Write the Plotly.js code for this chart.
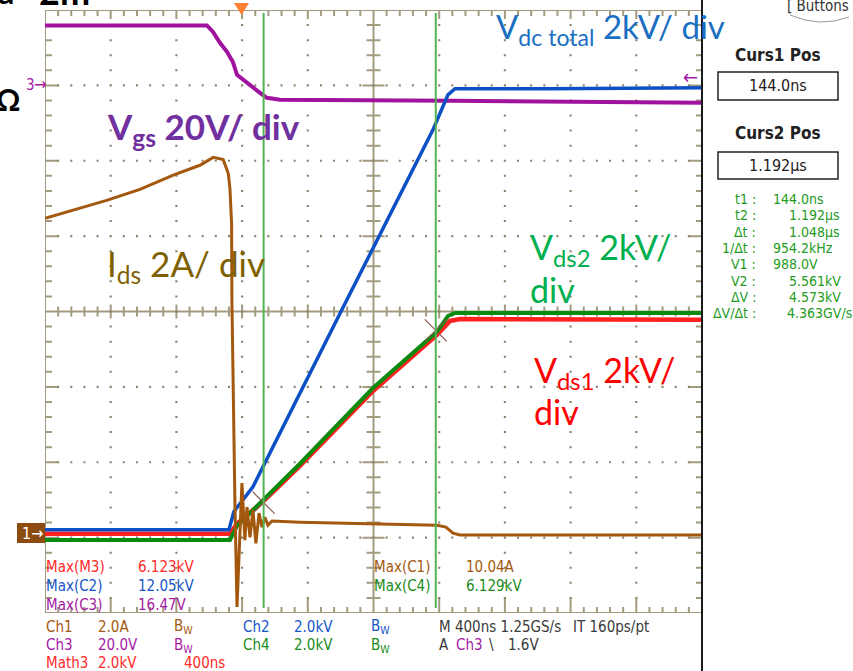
<!DOCTYPE html>
<html><head><meta charset="utf-8">
<script src="https://cdn.plot.ly/plotly-3.0.1.min.js"></script>
<style>html,body{margin:0;padding:0;background:#fff;}#chart{width:853px;height:671px;}</style>
</head><body><div id="chart"></div>
<script>
// ---------------- DATA (time in µs) ----------------
// Ch3: gate-source voltage Vgs (V), 20 V/div
const vgsTime  = [-1.187,-0.201,-0.164,-0.122,-0.079,-0.043,-0.018,0.018,0.079,0.122,0.164,0.244,1.279,2.813];
const vgsVolts = [15.5,15.5,13.8,10.9,8.5,5.8,2.4,1.1,-0.8,-2.4,-3.7,-4.2,-4.5,-5.0];
// Ch1: drain current Ids (A), 2 A/div
const idsTime = [-1.187,-1.015,-0.812,-0.609,-0.406,-0.244,-0.163,-0.102,-0.071,-0.061,-0.051,-0.049,-0.043,-0.037,-0.030,-0.018,-0.006,0.012,0.030,0.043,0.061,0.079,0.097,0.116,0.134,0.152,0.170,0.195,0.365,1.199,1.254,1.297,1.339,2.813];
const idsAmps = [8.35,8.57,8.83,9.12,9.50,9.76,9.97,9.91,9.54,9.14,8.21,6.18,4.06,1.62,0.61,-1.96,-0.64,1.33,-0.19,0.69,-0.11,0.61,-0.27,0.53,0.16,0.42,0.21,0.32,0.29,0.21,0.16,0.0,-0.05,-0.05];
// Ch2: Vdc total (kV), 2 kV/div
const vdcTime = [-1.187,-0.067,-0.037,0.079,0.651,1.175,1.266,1.309,1.887,2.813];
const vdcKV   = [0.05,0.05,0.53,1.19,6.15,10.66,11.59,11.75,11.75,11.78];
// Ch4: Vds2 (kV), 2 kV/div
const vds2Time = [-1.187,-0.061,-0.018,0.152,0.365,0.810,1.199,1.266,1.309,2.813];
const vds2KV   = [0,0,0.37,1.11,2.02,4.03,5.52,5.94,6.02,6.02];
// Math3: Vds1 (kV), 2 kV/div
const vds1Time = [-1.187,-0.061,-0.018,0.152,0.365,0.810,1.199,1.279,1.339,2.813];
const vds1KV   = [0,0,0.27,0.90,1.80,3.79,5.28,5.65,5.70,5.68];
// Cursors (µs) and their readings on Ch4 (kV)
const cursorTimes = [0.144, 1.192];
const cursorKV    = [0.988, 5.561];
// Channel scale (units/div) and ground level (divisions from screen centre)
const chan = {
  ch1:{scale:2,  gnd:-2.94},
  ch2:{scale:2,  gnd:-2.92},
  ch3:{scale:20, gnd:3.02},
  ch4:{scale:2,  gnd:-3.03},
  m3: {scale:2,  gnd:-2.95}
};
const timeRange = [-1.187, 2.813];   // 400 ns/div, 10 div
const divRange = [-4, 4];

// scope vertical scaling: physical value -> screen divisions
const toDiv=(vals,c)=>vals.map(v=>v/c.scale+c.gnd);

// ---------------- LAYOUT HELPERS ----------------
const L=45,R=702,T=10,B=613;
const PX=x=>(x-L)/(R-L), PY=y=>(B-y)/(B-T);
const DX=x=>+(timeRange[0]+(x-L)/(R-L)*(timeRange[1]-timeRange[0])).toFixed(5);
const DY=y=>+(divRange[1]-(y-T)/(B-T)*(divRange[1]-divRange[0])).toFixed(5);
const GRAT='#a39b80';
const NARROW="'Liberation Sans Narrow','DejaVu Sans Condensed','Roboto Condensed',Arial,sans-serif";
const CAL="Lato,'Open Sans',sans-serif";

// graticule path (borders, centre cross and tick marks)
let gp='', dp='';
const seg=(x1,y1,x2,y2)=>{gp+=`M${DX(x1)},${DY(y1)}L${DX(x2)},${DY(y2)}`;};
const dot=(x,y,hor)=>{dp+= hor?`M${DX(x-1)},${DY(y)}L${DX(x+1)},${DY(y)}`:`M${DX(x)},${DY(y-1)}L${DX(x)},${DY(y+1)}`;};
const dxm=(R-L)/50, dym=(B-T)/40, CX=(L+R)/2, CY=(T+B)/2;
seg(L,T,L,B); seg(L,T,R,T); seg(L,B,R,B);
seg(CX,T,CX,B); seg(L,CY,R,CY);
for(let i=1;i<50;i++){const x=L+i*dxm, maj=i%5===0;
  seg(x,T,x,T+(maj?9:6)); seg(x,B,x,B-(maj?15:6));
  seg(x,CY-(maj?7:5),x,CY+(maj?7:5));}
for(let j=1;j<40;j++){const y=T+j*dym, maj=j%5===0;
  seg(L,y,L+(maj?13:7),y); seg(R,y,R-(maj?13:6),y);
  seg(CX-(maj?11:7),y,CX+(maj?11:7),y);}
for(let i=1;i<10;i++){ if(i===5) continue; const x=L+i*dxm*5;
  for(let j=1;j<40;j++) dot(x,T+j*dym,false);}
for(let j=1;j<8;j++){ if(j===4) continue; const y=T+j*dym*5;
  for(let i=1;i<50;i++) dot(L+i*dxm,y,true);}

const shapes=[
 {type:'path',xref:'x',yref:'y',path:gp,line:{color:GRAT,width:2},layer:'between'},
 {type:'path',xref:'x',yref:'y',path:dp,line:{color:'#8c846b',width:2.2},layer:'between'},
 {type:'line',xref:'paper',yref:'paper',x0:PX(702),x1:PX(702),y0:PY(0),y1:PY(671),line:{color:'#1a1a1a',width:2}},
 {type:'path',xref:'paper',yref:'paper',path:`M${PX(234)},${PY(3)}L${PX(249)},${PY(3)}L${PX(241.5)},${PY(15)}Z`,fillcolor:'#ff8030',line:{width:0}},
 {type:'rect',xref:'paper',yref:'paper',x0:PX(17),x1:PX(45),y0:PY(543),y1:PY(523),fillcolor:'#8c4c10',line:{width:0}},
 {type:'rect',xref:'paper',yref:'paper',x0:PX(718),x1:PX(838),y0:PY(100),y1:PY(72),line:{color:'#222',width:1.5}},
 {type:'rect',xref:'paper',yref:'paper',x0:PX(718),x1:PX(838),y0:PY(179),y1:PY(152),line:{color:'#222',width:1.5}},
 {type:'path',xref:'paper',yref:'paper',path:`M${PX(790)},${PY(15)}Q${PX(820)},${PY(28)} ${PX(849)},${PY(17)}`,line:{color:'#999',width:1}}
];
cursorTimes.forEach(t=>shapes.push({type:'line',xref:'x',yref:'paper',x0:t,x1:t,y0:PY(608),y1:PY(13),line:{color:'#52b352',width:2},layer:'above'}));

const anns=[];
function A(text,x,y,color,size,family,opt){anns.push(Object.assign({text,x:PX(x),y:PY(y),xref:'paper',yref:'paper',showarrow:false,xanchor:'left',yanchor:'middle',borderpad:0,font:{color,size,family}},opt||{}));}

// big labels
A('V<sub>dc total</sub> 2kV/ div',495,29,'#1a6fc2',33,CAL);
A('<b>V<sub>gs</sub> 20V/ div</b>',106,128,'#7030a0',35,CAL);
A('I<sub>ds</sub> 2A/ div',106,265,'#7f6000',35,CAL);
A('V<sub>ds2</sub> 2kV/',529,249,'#00b050',34,CAL);
A('div',529,289,'#00b050',34,CAL);
A('V<sub>ds1</sub> 2kV/',533,372,'#ff0000',34,CAL);
A('div',533,411,'#ff0000',34,CAL);
A('<b>Ω</b>',-5,99,'#000',30,CAL);
A('<b>a</b>',-3,-9,'#000',32,CAL);
A('<b>2m</b>',38,-9,'#000',36,CAL);

// markers
A('3',25,85,'#a41aa4',15,NARROW);
A('→',33,84,'#a41aa4',17,NARROW);
A('1→',21,533,'#ffffff',16,NARROW);
A('←',682,77,'#a41aa4',20,NARROW);

// right panel
A('[ Buttons ]',786,6,'#333',15,NARROW);
A('<b>Curs1 Pos</b>',778,55,'#222',17,NARROW,{xanchor:'center'});
A('144.0ns',778,86,'#222',16,NARROW,{xanchor:'center'});
A('<b>Curs2 Pos</b>',778,133,'#222',17,NARROW,{xanchor:'center'});
A('1.192µs',778,165,'#222',16,NARROW,{xanchor:'center'});
const GR='#239b23';
const lab=['t1 :','t2 :','Δt :','1/Δt :','V1 :','V2 :','ΔV :','ΔV/Δt :'];
const val=['144.0ns','1.192µs','1.048µs','954.2kHz','988.0V','5.561kV','4.573kV','4.363GV/s'];
const vx=[772,788,788,772,772,788,788,786];
lab.forEach((s,i)=>{const y=199+i*16.3;A(s,757,y,GR,14,NARROW,{xanchor:'right'});A(val[i],vx[i],y,GR,14,NARROW);});

// scope readouts
const cBr='#a45a10',cBl='#1556c8',cPu='#a41aa4',cGn='#1a8c1a',cRd='#ff2a2a',cGy='#3a3a3a';
const sf=15;
[['Max(M3)',45,567,cRd],['6.123kV',137,567,cRd],['Max(C2)',45,586,cBl],['12.05kV',137,586,cBl],
 ['Max(C3)',45,605,cPu],['16.47V',137,605,cPu],['Max(C1)',373,567,cBr],['10.04A',465,567,cBr],
 ['Max(C4)',373,586,cGn],['6.129kV',465,586,cGn],
 ['Ch1',45,627,cBr],['2.0A',97,627,cBr],['B<sub>W</sub>',173,627,cBr],['Ch2',242,627,cBl],['2.0kV',293,627,cBl],['B<sub>W</sub>',370,627,cBl],
 ['M 400ns 1.25GS/s',438,627,cGy],['IT 160ps/pt',572,627,cGy],
 ['Ch3',45,645,cPu],['20.0V',97,645,cPu],['B<sub>W</sub>',173,645,cPu],['Ch4',242,645,cGn],['2.0kV',293,645,cGn],['B<sub>W</sub>',370,645,cGn],
 ['A',438,645,cGy],['Ch3',455,645,cPu],['\\',488,645,cGy],['1.6V',507,645,cGy],
 ['Math3',45,663,cRd],['2.0kV',97,663,cRd],['400ns',183,663,cRd]
].forEach(r=>A(r[0],r[1],r[2],r[3],sf,NARROW));

// ---------------- TRACES ----------------
const tr=(x,y,color,w)=>({x,y,type:'scatter',mode:'lines',line:{color,width:w,shape:'linear'},hoverinfo:'skip'});
const data=[
 tr(vds1Time,toDiv(vds1KV,chan.m3),'#ff2020',4.5),
 tr(vds2Time,toDiv(vds2KV,chan.ch4),'#0a8a0e',4),
 tr(vgsTime,toDiv(vgsVolts,chan.ch3),'#a0129e',4),
 tr(vdcTime,toDiv(vdcKV,chan.ch2),'#0d50c6',3.5),
 tr(idsTime,toDiv(idsAmps,chan.ch1),'#a4580e',3),
 {x:cursorTimes,y:toDiv(cursorKV,chan.ch4),type:'scatter',mode:'markers',marker:{symbol:'x-thin-open',size:22,line:{color:'#2f9f2f',width:1.2}},hoverinfo:'skip'}
];
const layout={
 width:853,height:671,margin:{l:L,r:853-R,t:T,b:671-B,pad:0},
 paper_bgcolor:'#ffffff',plot_bgcolor:'rgba(0,0,0,0)',showlegend:false,hovermode:false,
 xaxis:{range:timeRange,showticklabels:false,ticks:'',zeroline:false,showline:false,showgrid:false,fixedrange:true},
 yaxis:{range:divRange,showticklabels:false,ticks:'',zeroline:false,showline:false,showgrid:false,fixedrange:true},
 shapes,annotations:anns
};
Plotly.newPlot('chart',data,layout,{displayModeBar:false,staticPlot:true});
</script></body></html>
